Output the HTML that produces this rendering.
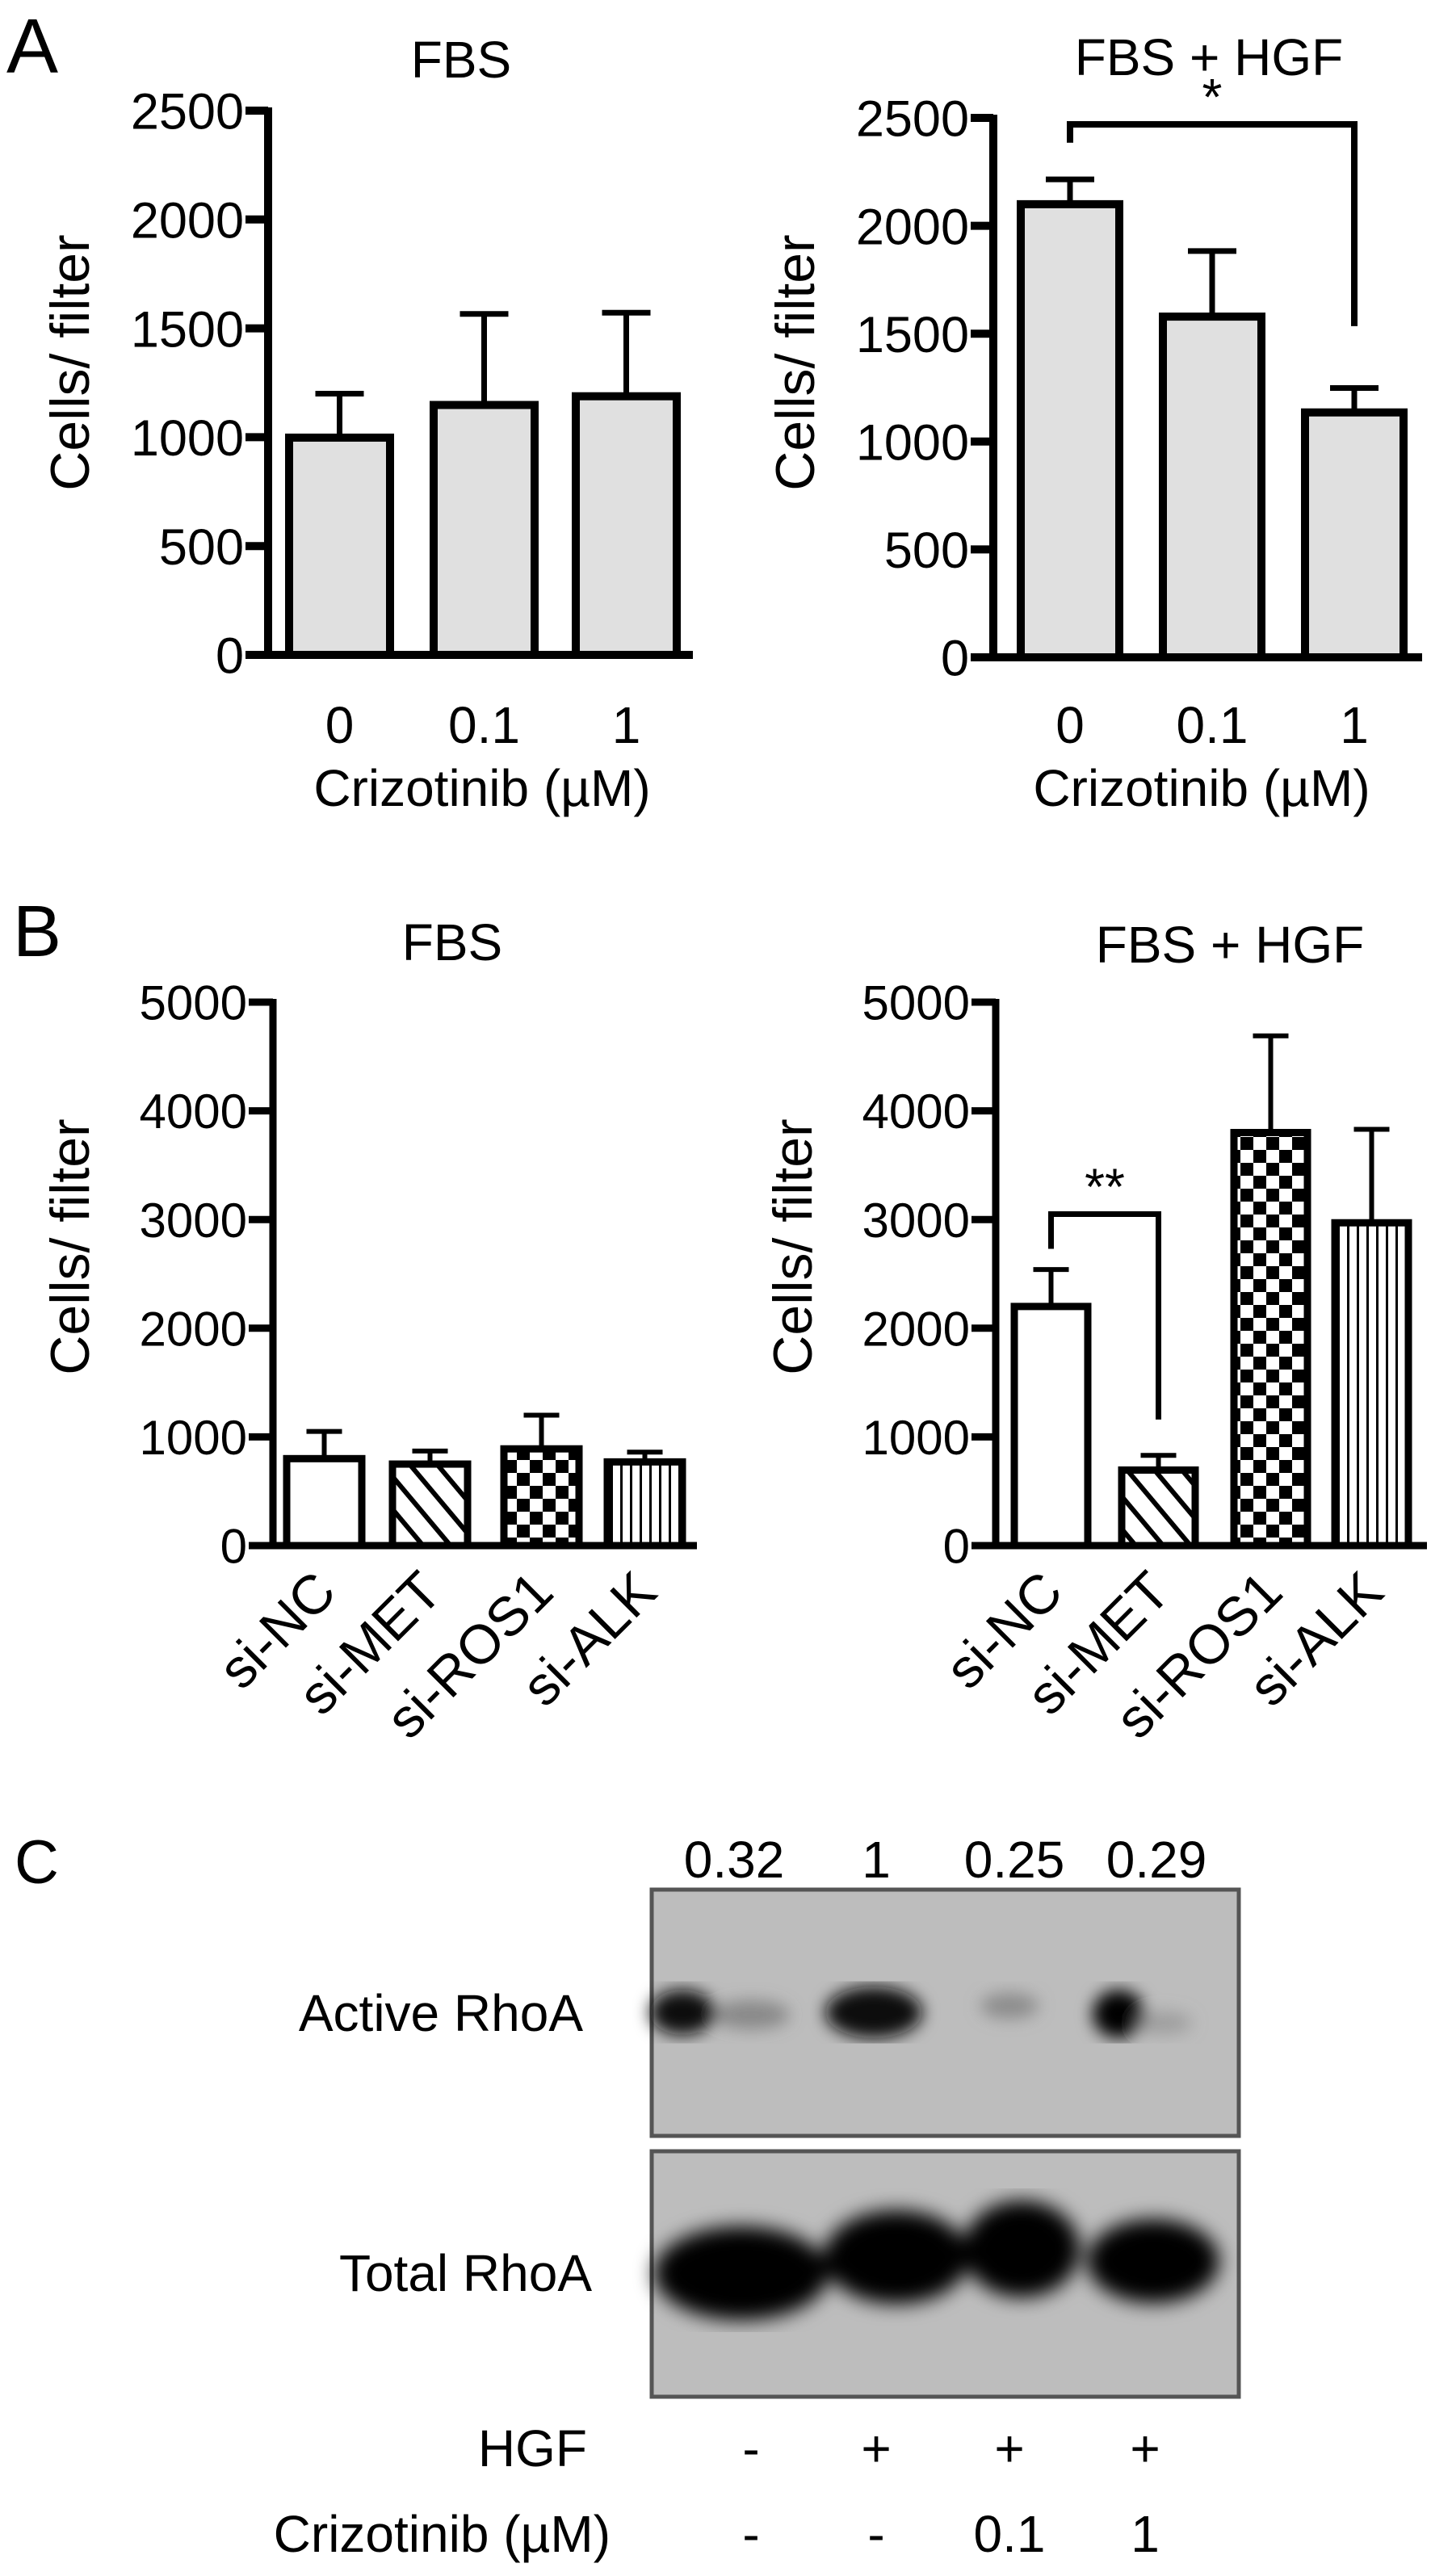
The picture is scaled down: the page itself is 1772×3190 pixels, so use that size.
<!DOCTYPE html>
<html><head><meta charset="utf-8"><style>
html,body{margin:0;padding:0;background:#fff;}
svg{display:block;font-family:"Liberation Sans",Arial,sans-serif;}
</style></head><body>
<svg id="fig" width="1772" height="3190" viewBox="0 0 1772 3190" xmlns="http://www.w3.org/2000/svg">
<defs>
<pattern id="hatch" patternUnits="userSpaceOnUse" width="26" height="26" patternTransform="rotate(-40)">
<rect width="26" height="26" fill="#fff"/><rect x="0" y="0" width="6" height="26" fill="#000"/></pattern>
<pattern id="checker" patternUnits="userSpaceOnUse" width="32" height="32">
<rect width="32" height="32" fill="#fff"/><rect width="16" height="16" fill="#000"/><rect x="16" y="16" width="16" height="16" fill="#000"/></pattern>
<pattern id="vlines" patternUnits="userSpaceOnUse" width="12" height="12">
<rect width="12" height="12" fill="#fff"/><rect width="3" height="12" fill="#000"/></pattern>
<filter id="blur8"><feGaussianBlur stdDeviation="10"/></filter>
<filter id="blur14"><feGaussianBlur stdDeviation="12"/></filter>
</defs>
<text x="8" y="90" font-size="96">A</text>
<text x="16" y="1184" font-size="90">B</text>
<text x="18" y="2332" font-size="76">C</text>
<g id="charts"></g>
<g id="blot">
<rect x="807" y="2340" width="727" height="305" fill="#bdbdbd" stroke="#555" stroke-width="5"/>
<g filter="url(#blur8)">
<ellipse cx="845" cy="2492" rx="40" ry="28" fill="#111"/>
<ellipse cx="930" cy="2495" rx="48" ry="18" fill="#666" opacity="0.6"/>
<ellipse cx="1082" cy="2492" rx="60" ry="32" fill="#0a0a0a"/>
<ellipse cx="1250" cy="2484" rx="36" ry="16" fill="#777" opacity="0.7"/>
<ellipse cx="1385" cy="2494" rx="32" ry="30" fill="#050505"/>
<ellipse cx="1440" cy="2505" rx="36" ry="14" fill="#888" opacity="0.6"/>
</g>
<rect x="807" y="2664" width="727" height="304" fill="#bdbdbd" stroke="#555" stroke-width="5"/>
<g filter="url(#blur14)">
<ellipse cx="918" cy="2815" rx="108" ry="58" fill="#030303"/>
<ellipse cx="1110" cy="2795" rx="90" ry="58" fill="#030303"/>
<ellipse cx="1265" cy="2785" rx="72" ry="60" fill="#030303"/>
<ellipse cx="1428" cy="2800" rx="82" ry="52" fill="#060606"/>
</g>
<g font-size="64" text-anchor="middle">
<text x="909" y="2325">0.32</text>
<text x="1085" y="2325">1</text>
<text x="1256" y="2325">0.25</text>
<text x="1432" y="2325">0.29</text>
</g>
<g font-size="64" text-anchor="end">
<text x="722" y="2515">Active RhoA</text>
<text x="733" y="2837">Total RhoA</text>
<text x="727" y="3054">HGF</text>
<text x="756" y="3160">Crizotinib (µM)</text>
</g>
<g font-size="64" text-anchor="middle">
<text x="930" y="3054">-</text>
<text x="1085" y="3054">+</text>
<text x="1250" y="3054">+</text>
<text x="1418" y="3054">+</text>
<text x="930" y="3160">-</text>
<text x="1085" y="3160">-</text>
<text x="1250" y="3160">0.1</text>
<text x="1418" y="3160">1</text>
</g>
</g>
</svg>
<script>
const aCategories = ["0", "0.1", "1"];
const aFbsValues = [998, 1148, 1188];
const aFbsErrors = [1200, 1566, 1572];
const aHgfValues = [2100, 1579, 1135];
const aHgfErrors = [2215, 1883, 1248];
const aTicks = [0, 500, 1000, 1500, 2000, 2500];
const bCategories = ["si-NC", "si-MET", "si-ROS1", "si-ALK"];
const bFbsValues = [800, 750, 890, 770];
const bFbsErrors = [1050, 870, 1200, 860];
const bHgfValues = [2200, 695, 3800, 2970];
const bHgfErrors = [2540, 830, 4690, 3830];
const bTicks = [0, 1000, 2000, 3000, 4000, 5000];
const bFills = ["#fff", "url(#hatch)", "url(#checker)", "url(#vlines)"];

const NS = "http://www.w3.org/2000/svg";
const root = document.getElementById("charts");
function mk(tag, attrs, parent) {
  const e = document.createElementNS(NS, tag);
  for (const k in attrs) e.setAttribute(k, attrs[k]);
  (parent || root).appendChild(e);
  return e;
}

function chart(cfg, cats, vals, errs, ticks, fills) {
  const g = mk("g", {});
  
  
  const tmax = ticks[ticks.length - 1];
  const y = v => cfg.y0 + (cfg.yTop - cfg.y0) * v / tmax;
  cats.forEach((c, i) => {
    const x0 = cfg.barX[i], w = cfg.barW;
    const cx = x0 + w / 2;
    const el = mk("line", {x1: cx, x2: cx, y1: y(vals[i]), y2: y(errs[i]), stroke: "#000", "stroke-width": cfg.ew}, g);
    
    
    const cap = mk("line", {x1: cx - cfg.cap, x2: cx + cfg.cap, y1: y(errs[i]), y2: y(errs[i]), stroke: "#000", "stroke-width": cfg.ew}, g);
    
    
    const b = mk("rect", {x: x0, y: y(vals[i]), width: w, height: cfg.y0 - y(vals[i]), fill: fills ? fills[i] : "#e0e0e0", stroke: "#000", "stroke-width": cfg.sw}, g);
    
    
  });
  const ya = mk("line", {x1: cfg.ax, x2: cfg.ax, y1: y(tmax) - 4, y2: cfg.y0 + 4, stroke: "#000", "stroke-width": cfg.sw}, g);
  
  
  const xa = mk("line", {x1: cfg.ax - cfg.tick, x2: cfg.axEnd, y1: cfg.y0, y2: cfg.y0, stroke: "#000", "stroke-width": cfg.sw}, g);
  
  
  ticks.forEach(t => {
    const tl = mk("line", {x1: cfg.ax - cfg.tick, x2: cfg.ax, y1: y(t), y2: y(t), stroke: "#000", "stroke-width": cfg.sw}, g);
    
    
    const tx = mk("text", {x: cfg.ax - cfg.tick - 2, y: y(t) + cfg.tfs * 0.36, "font-size": cfg.tfs, "text-anchor": "end"}, g);
    tx.textContent = t;
    
    
  });
  cats.forEach((c, i) => {
    const cx = cfg.barX[i] + cfg.barW / 2;
    let t;
    if (cfg.rot) {
      t = mk("text", {transform: "translate(" + (cx + 18) + "," + cfg.labY + ") rotate(-45)", "font-size": 68, "text-anchor": "end"}, g);
    } else {
      t = mk("text", {x: cx, y: cfg.labY, "font-size": 64, "text-anchor": "middle"}, g);
    }
    t.textContent = c;
    
    
  });
  const yl = mk("text", {transform: "translate(" + cfg.ylx + "," + cfg.yly + ") rotate(-90)", "font-size": 68, "text-anchor": "middle"}, g);
  yl.textContent = "Cells/ filter";
  
  
  const ti = mk("text", {x: cfg.tx, y: cfg.ty, "font-size": 64, "text-anchor": "middle"}, g);
  ti.textContent = cfg.title;
  
  
  if (cfg.xtitle) {
    const xt = mk("text", {x: cfg.xtx, y: cfg.xty, "font-size": 64, "text-anchor": "middle"}, g);
    xt.textContent = cfg.xtitle;
    
    
  }
  if (cfg.sig) {
    const s = cfg.sig, by = y(s.level);
    const br = mk("polyline", {points: [cfg.barX[s.a] + cfg.barW / 2, y(s.la), cfg.barX[s.a] + cfg.barW / 2, by, cfg.barX[s.b] + cfg.barW / 2, by, cfg.barX[s.b] + cfg.barW / 2, y(s.lb)].join(" "), fill: "none", stroke: "#000", "stroke-width": cfg.sw - 2}, g);
    
    
    const st = mk("text", {x: (cfg.barX[s.a] + cfg.barX[s.b] + cfg.barW) / 2, y: by - 12, "font-size": 64, "text-anchor": "middle"}, g);
    st.textContent = s.text;
    
    
  }
  return y;
}

chart({name: "chart-a-fbs", ax: 332, axEnd: 858, y0: 811, yTop: 137, tick: 28, sw: 10, ew: 7, cap: 30, barX: [358, 537, 713], barW: 125, tfs: 63, labY: 920, ylx: 110, yly: 449, tx: 571, ty: 96, title: "FBS", xtitle: "Crizotinib (µM)", xtx: 597, xty: 998},
  aCategories, aFbsValues, aFbsErrors, aTicks, null);
chart({name: "chart-a-fbs-hgf", ax: 1230, axEnd: 1761, y0: 814, yTop: 146, tick: 28, sw: 10, ew: 7, cap: 30, barX: [1264, 1440, 1616], barW: 122, tfs: 63, labY: 920, ylx: 1008, yly: 449, tx: 1497, ty: 93, title: "FBS + HGF", xtitle: "Crizotinib (µM)", xtx: 1488, xty: 998,
  sig: {a: 0, b: 2, level: 2470, la: 2385, lb: 1535, text: "*"}},
  aCategories, aHgfValues, aHgfErrors, aTicks, null);
chart({name: "chart-b-fbs", ax: 338, axEnd: 863, y0: 1914, yTop: 1241, tick: 30, sw: 9, ew: 6, cap: 22, barX: [355, 486, 624, 752], barW: 93, tfs: 60, labY: 1975, rot: true, ylx: 110, yly: 1544, tx: 560, ty: 1189, title: "FBS"},
  bCategories, bFbsValues, bFbsErrors, bTicks, bFills);
chart({name: "chart-b-fbs-hgf", ax: 1233, axEnd: 1767, y0: 1914, yTop: 1241, tick: 30, sw: 9, ew: 6, cap: 22, barX: [1256, 1389, 1528, 1653], barW: 91, tfs: 60, labY: 1975, rot: true, ylx: 1005, yly: 1544, tx: 1523, ty: 1192, title: "FBS + HGF",
  sig: {a: 0, b: 1, level: 3050, la: 2730, lb: 1160, text: "**"}},
  bCategories, bHgfValues, bHgfErrors, bTicks, bFills);
</script>
</body></html>
